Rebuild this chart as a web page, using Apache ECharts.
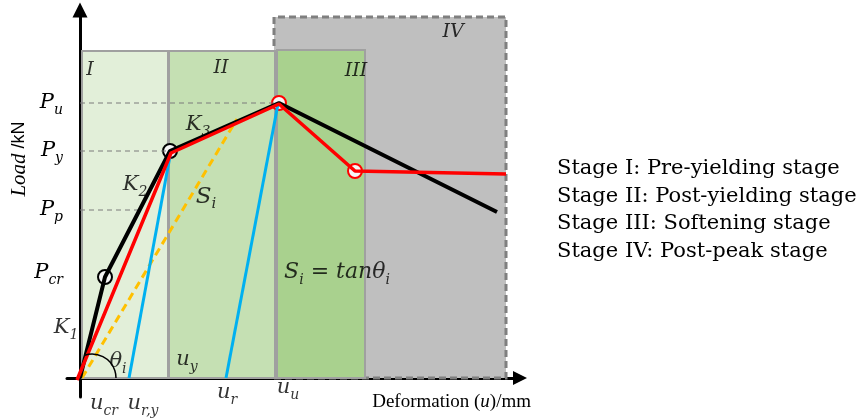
<!DOCTYPE html>
<html><head><meta charset="utf-8">
<script src="https://cdn.jsdelivr.net/npm/echarts@6/dist/echarts.min.js"></script>
<style>html,body{margin:0;padding:0;background:#fff}#c{width:859px;height:418px}</style>
</head><body><div id="c"></div>
<script>
// ---- schematic data (deformation u, load P in schematic units) ----
const blackCurve = [[0, 0], [2.5, 10.1], [9.0, 22.7], [19.9, 27.5], [41.7, 16.6]];
const redCurve = [[-0.3, -0.2], [9.1, 22.5], [19.9, 27.4], [27.5, 20.7], [42.6, 20.4]];
const unloadYield = [[4.9, 0], [9.0, 22.2]];
const unloadPeak = [[14.6, 0], [19.8, 27.4]];
const secantLine = [[0.2, 0], [15.7, 25.9]];
const blackMarks = [[2.5, 10.1], [9.0, 22.7]];
const redMarks = [[19.9, 27.5], [27.5, 20.7]];
const stageNames = ['IV', 'I', 'II', 'III'];
const stageFrom = [19.4, 0.2, 8.9, 19.7];
const stageTo = [42.6, 8.8, 19.5, 28.5];
const stageTop = [36.1, 32.7, 32.7, 32.8];
const stageFill = ['#bfbfbf', '#e2efd9', '#c5e0b3', '#a9d18e'];
const loadLabels = ['u', 'y', 'p', 'cr'];
const loadValues = [27.5, 22.7, 16.8, 10.5];
const guideEnds = [19.9, 9.0, 5.8, 0];
const stageNotes = ['Stage I: Pre-yielding stage', 'Stage II: Post-yielding stage', 'Stage III: Softening stage', 'Stage IV: Post-peak stage'];

const serif = 'DejaVu Serif';
const rich = {
  m: {fontFamily: serif, fontStyle: 'italic', fontSize: 21, lineHeight: 28, color: '#000'},
  s: {fontFamily: serif, fontStyle: 'italic', fontSize: 14, lineHeight: 15, verticalAlign: 'bottom', color: '#000'},
  r: {fontFamily: serif, fontStyle: 'italic', fontSize: 19, lineHeight: 24, color: '#000'},
  b: {fontFamily: serif, fontStyle: 'italic', fontSize: 23, lineHeight: 30, color: '#000'},
  bs: {fontFamily: serif, fontStyle: 'italic', fontSize: 15, lineHeight: 16, verticalAlign: 'bottom', color: '#000'},
  t: {fontFamily: serif, fontStyle: 'italic', fontSize: 22, lineHeight: 30, color: '#000'},
  ts: {fontFamily: serif, fontStyle: 'italic', fontSize: 14, lineHeight: 16, verticalAlign: 'bottom', color: '#000'},
  tn: {fontFamily: serif, fontSize: 22, lineHeight: 30, color: '#000'}
};

// annotation texts at data positions
const noteText = [
  '{r|I}', '{r|II}', '{r|III}', '{r|IV}',
  '{m|K}{s|1}', '{m|K}{s|2}', '{m|K}{s|3}', '{b|S}{bs|i}', '{m|θ}{s|i}',
  '{m|u}{s|y}', '{m|u}{s|cr}', '{m|u}{s|r,y}', '{m|u}{s|r}', '{m|u}{s|u}',
  '{t|S}{ts|i}{tn| = }{t|tanθ}{ts|i}'
];
const noteX = [1.0, 14.1, 27.6, 37.3, -1.4, 5.5, 11.8, 12.6, 3.8, 10.7, 2.4, 6.3, 14.7, 20.8, 25.7];
const noteY = [30.8, 31.0, 30.7, 34.6, 5.0, 19.3, 25.3, 18.1, 1.6, 1.8, -2.6, -2.6, -1.5, -1.0, 10.6];

const chart = echarts.init(document.getElementById('c'));

const series = [];
series.push({
  type: 'line', data: [[0, 0]], symbol: 'none', lineStyle: {opacity: 0}, silent: true,
  markArea: {
    silent: true,
    label: {show: false},
    data: stageNames.map((n, i) => [
      {xAxis: stageFrom[i], yAxis: 0, itemStyle: i === 0
        ? {color: stageFill[i], borderColor: '#7f7f7f', borderWidth: 3, borderType: [7, 4]}
        : {color: stageFill[i], borderColor: '#a0a0a0', borderWidth: 2}},
      {xAxis: stageTo[i], yAxis: stageTop[i]}
    ])
  }
});
loadValues.forEach((v, i) => {
  if (guideEnds[i] > 0) series.push({
    type: 'line', data: [[0, v], [guideEnds[i], v]], symbol: 'none', silent: true,
    lineStyle: {color: '#7a7a7a', width: 1, type: [5, 4]}
  });
});
series.push({type: 'line', data: secantLine, symbol: 'none', lineStyle: {color: '#ffc000', width: 3, type: [8, 5]}});
series.push({type: 'line', data: unloadYield, symbol: 'none', lineStyle: {color: '#00b0f0', width: 3}});
series.push({type: 'line', data: unloadPeak, symbol: 'none', lineStyle: {color: '#00b0f0', width: 3}});
series.push({type: 'line', data: blackCurve, symbol: 'none', lineStyle: {color: '#000', width: 4}});
series.push({type: 'line', data: redCurve, symbol: 'none', lineStyle: {color: '#ff0000', width: 3.5}});
series.push({type: 'scatter', data: blackMarks, symbolSize: 14, itemStyle: {color: '#f6f6f6', borderColor: '#000', borderWidth: 2, opacity: 1}});
series.push({type: 'scatter', data: redMarks, symbolSize: 14, itemStyle: {color: '#f6f6f6', borderColor: '#ff0000', borderWidth: 2, opacity: 1}});
series.push({
  type: 'scatter', clip: false, symbolSize: 0, silent: true,
  data: noteText.map((t, i) => ({value: [noteX[i], noteY[i]], label: {formatter: t}})),
  label: {show: true, position: 'inside', rich: rich, color: '#000'}
});

chart.setOption({
  animation: false,
  grid: {left: 67, right: 339, top: 10, bottom: 21, containLabel: false, outerBoundsMode: 'none'},
  xAxis: {
    type: 'value', min: -1.3, max: 44,
    axisLine: {onZero: true, lineStyle: {color: '#000', width: 3}, symbol: ['none', 'triangle'], symbolSize: [14, 14]},
    axisTick: {show: false}, axisLabel: {show: false}, splitLine: {show: false}
  },
  yAxis: {
    type: 'value', min: -1.9, max: 36.8,
    axisLine: {onZero: true, lineStyle: {color: '#000', width: 3}, symbol: ['none', 'triangle'], symbolSize: [15, 15]},
    axisTick: {show: false}, splitLine: {show: false},
    axisLabel: {
      customValues: loadValues, margin: 4, rich: rich, color: '#000',
      formatter: v => { const i = loadValues.findIndex(x => Math.abs(x - v) < 1e-6); return i < 0 ? '' : '{m|P}{s|' + loadLabels[i] + '}'; }
    }
  },
  series: series
});

const c0 = chart.convertToPixel({gridIndex: 0}, [1.2, 0]);
chart.setOption({
  graphic: [
    {type: 'arc', shape: {cx: c0[0], cy: c0[1], r: 24, startAngle: -Math.PI * 0.6, endAngle: 0}, style: {stroke: '#000', lineWidth: 1.5, fill: null}, z: 10},
    {type: 'text', x: 19, y: 159, rotation: Math.PI / 2, style: {
      text: '{a|Load}{b| /kN}', align: 'center', verticalAlign: 'middle',
      rich: {a: {fontFamily: 'Liberation Serif', fontStyle: 'italic', fontSize: 21}, b: {fontFamily: 'Liberation Sans', fontSize: 18}}
    }},
    {type: 'text', x: 531, y: 402, style: {
      text: '{a|Deformation (}{b|u}{a|)/mm}', align: 'right', verticalAlign: 'middle',
      rich: {a: {fontFamily: 'Liberation Serif', fontSize: 19}, b: {fontFamily: 'Liberation Serif', fontStyle: 'italic', fontSize: 19}}
    }}
  ].concat(stageNotes.map((t, i) => ({
    type: 'text', x: 557, y: 169 + i * 27.5,
    style: {text: t, fontFamily: serif, fontSize: 21, fill: '#000', align: 'left', verticalAlign: 'middle'}
  })))
});
</script></body></html>
